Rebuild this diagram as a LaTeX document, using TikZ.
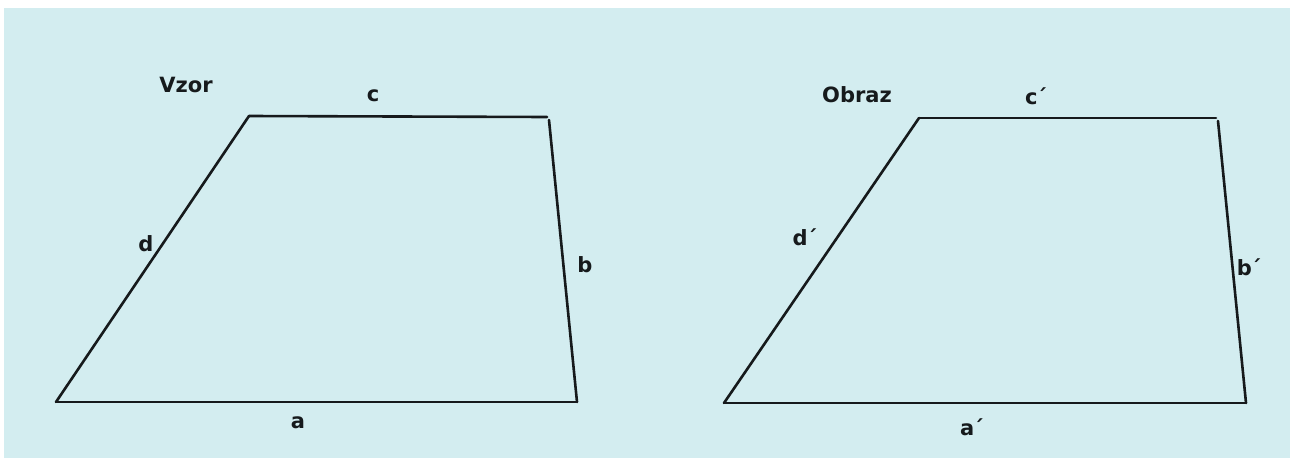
\documentclass[tikz,border=0pt]{standalone}
\usepackage{fontspec}
\setmainfont{DejaVu Sans}
\definecolor{bgcyan}{RGB}{211,237,240}
\definecolor{edge}{RGB}{22,26,28}
\newcommand{\pr}{\kern-1pt´}
\begin{document}
\begin{tikzpicture}[x=1pt,y=-1pt,
  side/.style={draw=edge,line width=2.6pt,line cap=round},
  lbl/.style={inner sep=0pt,text=edge,font=\fontsize{21}{24}\selectfont\bfseries}]
\useasboundingbox (0,0) rectangle (1290,458);
\fill[white] (0,0) rectangle (1290,458);
\fill[bgcyan] (4,8) rectangle (1290,458);
% left trapezoid (Vzor)
\coordinate (A1) at (56,402);
\coordinate (B1) at (577,402);
\coordinate (C1) at (549,120);
\coordinate (C1t) at (547,117);
\coordinate (D1) at (249,116);
\draw[side] (A1) -- (B1);
\draw[side] (B1) -- (C1);
\draw[side] (D1) -- (C1t);
\draw[side] (A1) -- (D1);
% right trapezoid (Obraz)
\coordinate (A2) at (724,403);
\coordinate (B2) at (1246,403);
\coordinate (C2) at (1218,121);
\coordinate (C2t) at (1216,118);
\coordinate (D2) at (919,118);
\draw[side] (A2) -- (B2);
\draw[side] (B2) -- (C2);
\draw[side] (D2) -- (C2t);
\draw[side] (A2) -- (D2);
% labels
\node[lbl] (vzor) at (186,85) {Vzor};
\node[lbl] (lc) at (373,96) {c};
\node[lbl] (ld) at (146,244) {d};
\node[lbl] (lb) at (585,265) {b};
\node[lbl] (la) at (298,423) {a};
\node[lbl] (obraz) at (857,95) {Obraz};
\node[lbl] (lc2) at (1036,96) {c\pr};
\node[lbl] (ld2) at (805,237) {d\pr};
\node[lbl] (lb2) at (1249,267) {b\pr};
\node[lbl] (la2) at (972,427) {a\pr};
\end{tikzpicture}
\end{document}
